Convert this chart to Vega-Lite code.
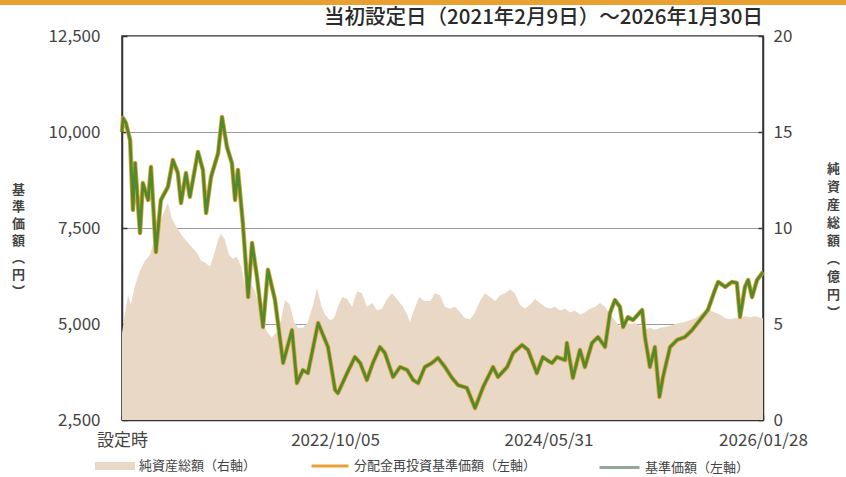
{
  "$schema": "https://vega.github.io/schema/vega-lite/v6.json",
  "width": 641,
  "height": 384,
  "autosize": {"type": "none"},
  "padding": {"left": 122, "top": 36, "right": 83, "bottom": 57},
  "background": "white",
  "title": {"text": "当初設定日（2021年2月9日）～2026年1月30日", "anchor": "end", "frame": "group", "fontSize": 20.5, "font": "Noto Sans CJK JP", "fontWeight": 500, "color": "#2a2a2a", "offset": -28},
  "config": {
    "font": "Noto Sans CJK JP",
    "view": {"stroke": "#333333", "strokeWidth": 1.5},
    "axis": {"domainColor": "#333333", "domainWidth": 1.5, "tickColor": "#333333", "tickWidth": 1.5, "labelColor": "#444444", "labelFont": "Noto Sans CJK JP", "labelFontSize": 17, "gridColor": "#9a9a9a", "gridWidth": 1, "titleFont": "Noto Sans CJK JP", "titleColor": "#444444"},
    "legend": {"labelFont": "Noto Sans CJK JP", "labelFontSize": 13, "labelColor": "#444444", "labelLimit": 400}
  },
  "datasets": {
    "band": [{"start": "2019-01-01", "end": "2028-01-01", "level": 1.0872}],
    "price": [
      {"date":"2021-02-09","value":10000},{"date":"2021-02-12","value":10365},{"date":"2021-02-20","value":10235},{"date":"2021-03-04","value":9790},{"date":"2021-03-12","value":7970},{"date":"2021-03-18","value":9190},{"date":"2021-04-01","value":7370},{"date":"2021-04-09","value":8670},{"date":"2021-04-24","value":8230},{"date":"2021-05-02","value":9090},{"date":"2021-05-16","value":6875},{"date":"2021-05-30","value":8230},{"date":"2021-06-19","value":8570},{"date":"2021-07-03","value":9270},{"date":"2021-07-17","value":8930},{"date":"2021-07-26","value":8150},{"date":"2021-08-09","value":8930},{"date":"2021-08-20","value":8310},{"date":"2021-09-12","value":9480},{"date":"2021-09-26","value":9010},{"date":"2021-10-05","value":7890},{"date":"2021-10-19","value":8830},{"date":"2021-11-08","value":9450},{"date":"2021-11-19","value":10390},{"date":"2021-12-03","value":9610},{"date":"2021-12-17","value":9190},{"date":"2021-12-26","value":8230},
      {"date":"2022-01-03","value":9010},{"date":"2022-01-17","value":7630},{"date":"2022-02-01","value":5700},{"date":"2022-02-12","value":7110},{"date":"2022-02-26","value":6225},{"date":"2022-03-15","value":4920},{"date":"2022-03-29","value":6410},{"date":"2022-04-18","value":5625},{"date":"2022-05-11","value":3985},{"date":"2022-06-05","value":4840},{"date":"2022-06-19","value":3460},{"date":"2022-07-06","value":3800},{"date":"2022-07-20","value":3720},{"date":"2022-08-18","value":5025},{"date":"2022-09-15","value":4400},{"date":"2022-10-05","value":3280},{"date":"2022-10-13","value":3200},{"date":"2022-11-08","value":3720},{"date":"2022-11-30","value":4140},{"date":"2022-12-15","value":3985},
      {"date":"2023-01-03","value":3540},{"date":"2023-01-20","value":3985},{"date":"2023-02-09","value":4400},{"date":"2023-02-23","value":4245},{"date":"2023-03-18","value":3620},{"date":"2023-04-07","value":3880},{"date":"2023-04-27","value":3800},{"date":"2023-05-14","value":3540},{"date":"2023-05-28","value":3460},{"date":"2023-06-16","value":3880},{"date":"2023-07-06","value":3985},{"date":"2023-07-23","value":4115},{"date":"2023-08-12","value":3880},{"date":"2023-09-01","value":3595},{"date":"2023-09-18","value":3410},{"date":"2023-10-13","value":3335},{"date":"2023-11-05","value":2810},{"date":"2023-11-28","value":3360},{"date":"2023-12-26","value":3880},
      {"date":"2024-01-09","value":3620},{"date":"2024-02-04","value":3880},{"date":"2024-02-21","value":4245},{"date":"2024-03-17","value":4455},{"date":"2024-04-03","value":4325},{"date":"2024-04-28","value":3720},{"date":"2024-05-15","value":4140},{"date":"2024-06-04","value":4010},{"date":"2024-06-10","value":3985},{"date":"2024-06-24","value":4140},{"date":"2024-07-17","value":4060},{"date":"2024-07-22","value":4505},{"date":"2024-08-08","value":3595},{"date":"2024-08-28","value":4325},{"date":"2024-09-11","value":3880},{"date":"2024-10-01","value":4505},{"date":"2024-10-18","value":4660},{"date":"2024-11-07","value":4400},{"date":"2024-11-21","value":5285},{"date":"2024-12-05","value":5625},{"date":"2024-12-19","value":5445},{"date":"2024-12-28","value":4920},
      {"date":"2025-01-11","value":5180},{"date":"2025-01-25","value":5105},{"date":"2025-02-20","value":5365},{"date":"2025-02-28","value":4660},{"date":"2025-03-14","value":3880},{"date":"2025-03-28","value":4400},{"date":"2025-04-10","value":3100},{"date":"2025-04-20","value":3620},{"date":"2025-05-10","value":4400},{"date":"2025-05-30","value":4585},{"date":"2025-06-21","value":4660},{"date":"2025-07-11","value":4840},{"date":"2025-08-03","value":5105},{"date":"2025-08-25","value":5365},{"date":"2025-09-14","value":5885},{"date":"2025-09-23","value":6095},{"date":"2025-10-13","value":5965},{"date":"2025-11-01","value":6095},{"date":"2025-11-15","value":6070},{"date":"2025-11-24","value":5180},{"date":"2025-12-08","value":5965},{"date":"2025-12-17","value":6145},{"date":"2025-12-28","value":5700},{"date":"2026-01-11","value":6145},{"date":"2026-01-28","value":6355}
    ],
    "nav": [
      {"date":"2021-02-09","nav":4.5},{"date":"2021-02-17","nav":5.5},{"date":"2021-02-26","nav":6.5},{"date":"2021-03-06","nav":6.0},{"date":"2021-03-18","nav":7.0},{"date":"2021-04-01","nav":7.8},{"date":"2021-04-15","nav":8.3},{"date":"2021-04-29","nav":8.6},{"date":"2021-05-13","nav":9.5},{"date":"2021-05-28","nav":10.3},{"date":"2021-06-11","nav":11.0},{"date":"2021-06-19","nav":11.3},{"date":"2021-06-30","nav":10.5},{"date":"2021-07-15","nav":10.0},{"date":"2021-07-29","nav":9.6},{"date":"2021-08-12","nav":9.3},{"date":"2021-08-26","nav":9.0},{"date":"2021-09-09","nav":8.7},{"date":"2021-09-21","nav":8.3},{"date":"2021-10-02","nav":8.2},{"date":"2021-10-16","nav":8.0},{"date":"2021-10-27","nav":8.6},{"date":"2021-11-08","nav":9.4},{"date":"2021-11-16","nav":9.7},{"date":"2021-11-27","nav":9.4},{"date":"2021-12-09","nav":8.6},{"date":"2021-12-20","nav":8.4},{"date":"2021-12-31","nav":8.5},
      {"date":"2022-01-12","nav":8.0},{"date":"2022-01-23","nav":7.0},{"date":"2022-02-06","nav":7.2},{"date":"2022-02-20","nav":6.7},{"date":"2022-03-01","nav":6.2},{"date":"2022-03-12","nav":5.2},{"date":"2022-03-26","nav":4.6},{"date":"2022-04-09","nav":4.3},{"date":"2022-04-24","nav":4.6},{"date":"2022-05-05","nav":5.2},{"date":"2022-05-16","nav":6.25},{"date":"2022-05-30","nav":6.0},{"date":"2022-06-11","nav":5.1},{"date":"2022-06-22","nav":4.8},{"date":"2022-07-06","nav":4.8},{"date":"2022-07-20","nav":5.1},{"date":"2022-08-04","nav":6.0},{"date":"2022-08-15","nav":6.9},{"date":"2022-08-26","nav":6.0},{"date":"2022-09-06","nav":5.5},{"date":"2022-09-21","nav":5.2},{"date":"2022-10-02","nav":5.3},{"date":"2022-10-13","nav":5.9},{"date":"2022-10-25","nav":6.4},{"date":"2022-11-08","nav":6.3},{"date":"2022-11-22","nav":5.9},{"date":"2022-12-06","nav":6.7},{"date":"2022-12-20","nav":6.6},
      {"date":"2023-01-03","nav":5.9},{"date":"2023-01-18","nav":6.1},{"date":"2023-02-01","nav":5.7},{"date":"2023-02-15","nav":5.8},{"date":"2023-03-01","nav":6.3},{"date":"2023-03-15","nav":6.6},{"date":"2023-03-29","nav":6.3},{"date":"2023-04-15","nav":5.9},{"date":"2023-04-27","nav":5.5},{"date":"2023-05-05","nav":5.1},{"date":"2023-05-16","nav":5.7},{"date":"2023-05-31","nav":6.4},{"date":"2023-06-14","nav":6.2},{"date":"2023-07-01","nav":6.2},{"date":"2023-07-15","nav":6.6},{"date":"2023-07-29","nav":6.5},{"date":"2023-08-12","nav":5.9},{"date":"2023-08-26","nav":5.8},{"date":"2023-09-09","nav":5.9},{"date":"2023-09-24","nav":5.6},{"date":"2023-10-08","nav":5.3},{"date":"2023-10-22","nav":5.25},{"date":"2023-11-05","nav":5.6},{"date":"2023-11-19","nav":6.2},{"date":"2023-12-03","nav":6.6},{"date":"2023-12-17","nav":6.4},
      {"date":"2024-01-01","nav":6.2},{"date":"2024-01-15","nav":6.5},{"date":"2024-01-29","nav":6.6},{"date":"2024-02-12","nav":6.8},{"date":"2024-02-26","nav":6.6},{"date":"2024-03-11","nav":6.0},{"date":"2024-03-25","nav":5.8},{"date":"2024-04-09","nav":6.0},{"date":"2024-04-23","nav":6.3},{"date":"2024-05-07","nav":6.1},{"date":"2024-05-21","nav":5.9},{"date":"2024-06-04","nav":5.8},{"date":"2024-06-18","nav":5.9},{"date":"2024-07-03","nav":5.7},{"date":"2024-07-17","nav":5.8},{"date":"2024-07-31","nav":5.6},{"date":"2024-08-14","nav":5.7},{"date":"2024-08-28","nav":5.5},{"date":"2024-09-11","nav":5.6},{"date":"2024-09-25","nav":5.8},{"date":"2024-10-10","nav":5.9},{"date":"2024-10-24","nav":6.1},{"date":"2024-11-07","nav":5.9},{"date":"2024-11-21","nav":5.5},{"date":"2024-12-05","nav":5.2},{"date":"2024-12-19","nav":4.85},
      {"date":"2025-01-02","nav":5.05},{"date":"2025-01-17","nav":5.0},{"date":"2025-01-31","nav":5.05},{"date":"2025-02-14","nav":4.9},{"date":"2025-02-28","nav":4.7},{"date":"2025-03-14","nav":4.8},{"date":"2025-03-28","nav":4.7},{"date":"2025-04-12","nav":4.8},{"date":"2025-04-26","nav":4.85},{"date":"2025-05-10","nav":4.9},{"date":"2025-05-24","nav":5.0},{"date":"2025-06-07","nav":5.05},{"date":"2025-06-21","nav":5.1},{"date":"2025-07-05","nav":5.2},{"date":"2025-07-20","nav":5.3},{"date":"2025-08-03","nav":5.5},{"date":"2025-08-17","nav":5.7},{"date":"2025-08-31","nav":5.7},{"date":"2025-09-14","nav":5.6},{"date":"2025-09-28","nav":5.5},{"date":"2025-10-13","nav":5.3},{"date":"2025-10-27","nav":5.25},{"date":"2025-11-10","nav":5.3},{"date":"2025-11-24","nav":5.3},{"date":"2025-12-08","nav":5.4},{"date":"2025-12-22","nav":5.35},{"date":"2026-01-05","nav":5.4},{"date":"2026-01-28","nav":5.3}
    ]
  },
  "encoding": {
    "x": {
      "field": "date", "type": "temporal",
      "scale": {"type": "utc", "domain": [{"year": 2021, "month": 2, "date": 9, "utc": true}, {"year": 2026, "month": 1, "date": 28, "utc": true}]},
      "axis": {
        "values": [{"year": 2021, "month": 2, "date": 9, "utc": true}, {"year": 2022, "month": 10, "date": 5, "utc": true}, {"year": 2024, "month": 5, "date": 31, "utc": true}, {"year": 2026, "month": 1, "date": 28, "utc": true}],
        "labelExpr": "datum.index == 0 ? '設定時' : utcFormat(datum.value, '%Y/%m/%d')",
        "grid": false, "tickSize": -5, "labelPadding": 17, "labelFlush": false, "labelOverlap": false, "title": null, "labelFontSize": 17
      }
    }
  },
  "layer": [
    {
      "data": {"name": "nav"},
      "mark": {"type": "area", "opacity": 1},
      "encoding": {
        "y": {
          "field": "nav", "type": "quantitative",
          "scale": {"domain": [0, 20]},
          "axis": {
            "orient": "right", "values": [0, 5, 10, 15, 20], "grid": false, "tickSize": -5, "labelPadding": 15, "labelFontSize": 17,
            "title": ["純", "資", "産", "総", "額", "︵", "億", "円", "︶"],
            "titleAngle": 0, "titleAlign": "center", "titleBaseline": "middle", "titleX": 70, "titleY": 132, "titleFontSize": 13, "titleLineHeight": 18, "titleFontWeight": "bold"
          }
        },
        "color": {
          "datum": "純資産総額（右軸）", "type": "nominal",
          "scale": {"range": ["#E9D8C5"]},
          "legend": {"orient": "none", "legendX": -27, "legendY": 410, "title": null, "symbolType": "M-1,-0.2H1V0.2H-1Z", "symbolSize": 1600, "symbolStrokeWidth": 0}
        }
      }
    },
    {
      "layer": [
        {
          "data": {"name": "price"},
          "mark": {"type": "line", "strokeWidth": 2, "strokeJoin": "round"},
          "encoding": {
            "y": {
              "field": "value", "type": "quantitative",
              "scale": {"domain": [2500, 12500]},
              "axis": {
                "orient": "left", "values": [2500, 5000, 7500, 10000, 12500], "format": ",d", "grid": true, "tickSize": -5, "labelPadding": 27, "labelFontSize": 17,
                "title": ["基", "準", "価", "額", "︵", "円", "︶"],
                "titleAngle": 0, "titleAlign": "center", "titleBaseline": "middle", "titleX": -104, "titleY": 153, "titleFontSize": 13, "titleLineHeight": 17, "titleFontWeight": "bold"
              }
            },
            "color": {
              "datum": "基準価額（左軸）", "type": "nominal",
              "scale": {"range": ["#8FA898"]},
              "legend": {"orient": "none", "legendX": 476, "legendY": 410, "title": null, "symbolType": "M-1,0H1", "symbolSize": 1600, "symbolStrokeWidth": 3}
            }
          }
        },
        {
          "data": {"name": "price"},
          "mark": {"type": "line", "strokeWidth": 4.5, "strokeJoin": "round"},
          "encoding": {
            "y": {"field": "value", "type": "quantitative", "scale": {"domain": [2500, 12500]}},
            "color": {
              "datum": "分配金再投資基準価額（左軸）", "type": "nominal",
              "scale": {"range": ["#E8A13A"]},
              "legend": {"orient": "none", "legendX": 188, "legendY": 410, "title": null, "symbolType": "M-1,0H1", "symbolSize": 1369, "symbolStrokeWidth": 3}
            }
          }
        },
        {
          "data": {"name": "price"},
          "mark": {"type": "line", "strokeWidth": 2.8, "strokeJoin": "round", "color": "#4F8A2B"},
          "encoding": {
            "y": {"field": "value", "type": "quantitative", "scale": {"domain": [2500, 12500]}}
          }
        }
      ],
      "resolve": {"scale": {"color": "independent"}}
    },
    {
      "data": {"name": "band"},
      "mark": {"type": "rule", "clip": false, "color": "#E8A030", "strokeWidth": 5},
      "encoding": {
        "x": {"field": "start", "type": "temporal"},
        "x2": {"field": "end"},
        "y": {"field": "level", "type": "quantitative", "scale": {"domain": [0, 1]}, "axis": null}
      }
    }
  ],
  "resolve": {"scale": {"y": "independent", "color": "independent"}}
}
